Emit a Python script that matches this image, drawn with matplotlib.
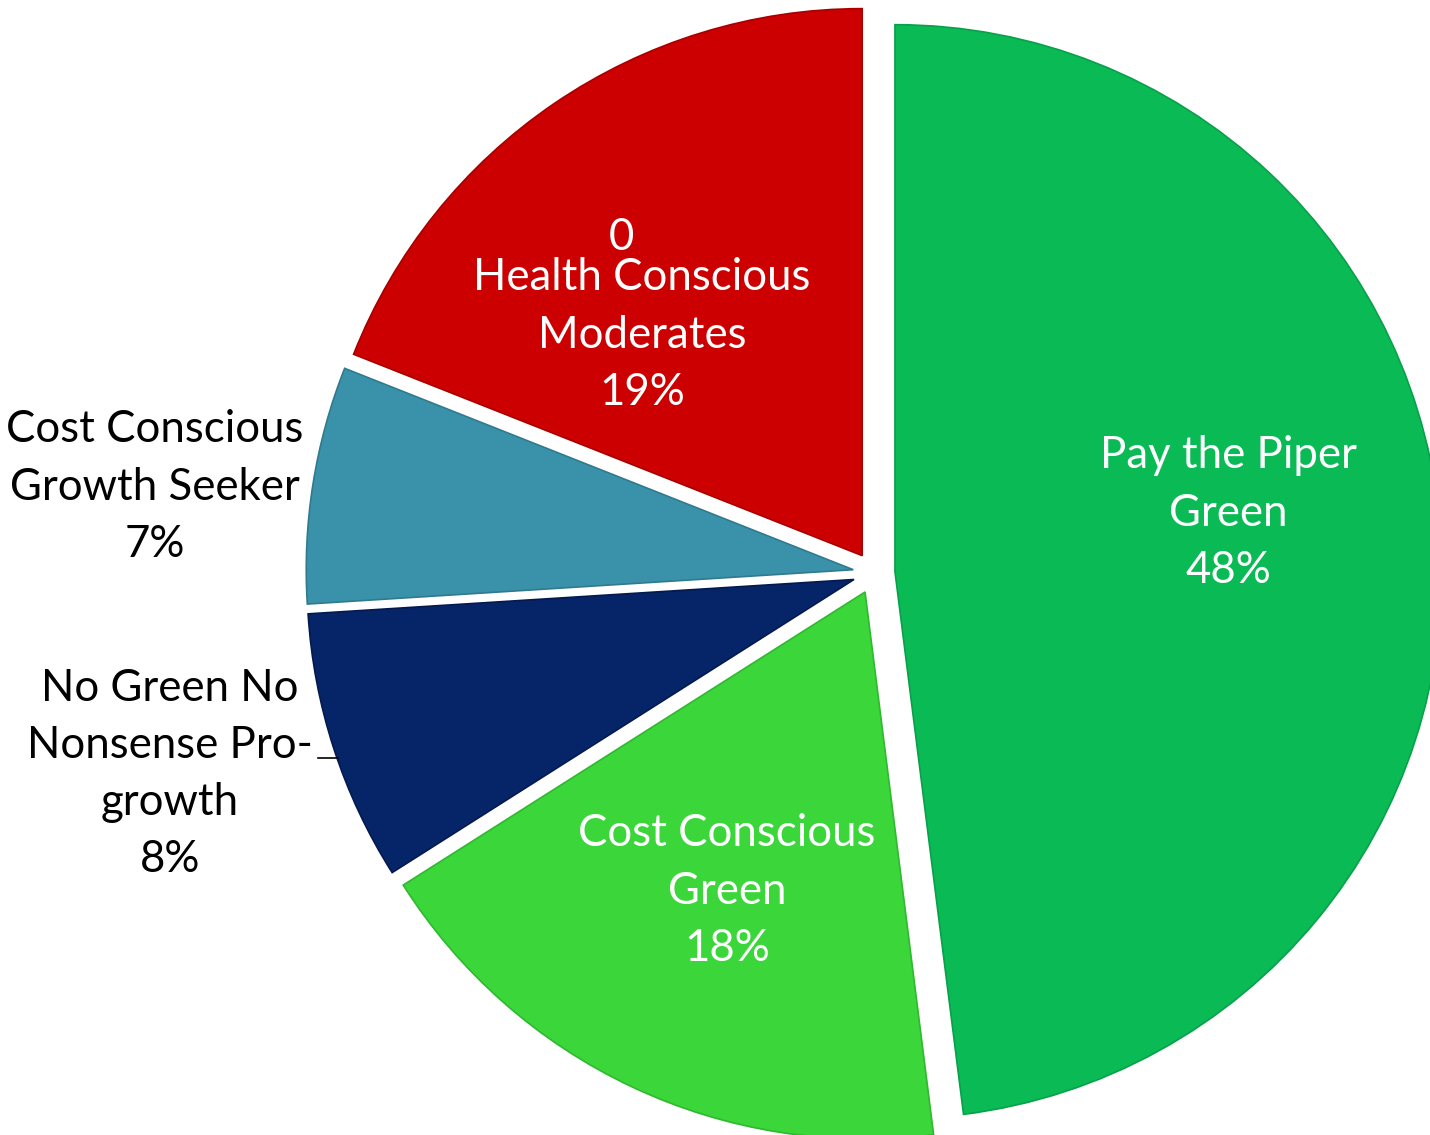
import matplotlib
matplotlib.use("Agg")
import matplotlib.pyplot as plt

# Data
segments = ["Pay the Piper Green", "Cost Conscious Green", "No Green No Nonsense Pro-growth",
            "Cost Conscious Growth Seeker", "Health Conscious Moderates"]
shares = [48, 18, 8, 7, 19]
pct_labels = ["48%", "18%", "8%", "7%", "19%"]
label_text = ["Pay the Piper\nGreen", "Cost Conscious\nGreen", "No Green No\nNonsense Pro-\ngrowth",
              "Cost Conscious\nGrowth Seeker", "Health Conscious\nModerates"]
colors = ["#0ABB55", "#3AD63A", "#062468", "#3A92AA", "#CC0000"]
edge_colors = ["#08A04A", "#30B830", "#041A4E", "#2F7A8E", "#A80000"]
text_colors = ["white", "white", "black", "black", "white"]

W, H = 1430, 1135
fig = plt.figure(figsize=(W / 100, H / 100), dpi=100)
ax = fig.add_axes([0, 0, 1, 1])

def Y(y):
    return H - y

cx, cy, R = 874, 573, 547
explode = [21] * len(shares)   # absolute offset in data units
wedges, _ = ax.pie(shares, colors=colors, startangle=90, counterclock=False, radius=R,
                   center=(cx, Y(cy)), explode=explode, frame=True,
                   wedgeprops=dict(linewidth=1.2))
for w, ec in zip(wedges, edge_colors):
    w.set_edgecolor(ec)
ax.set_xlim(0, W)
ax.set_ylim(0, H)
ax.set_aspect("equal")
ax.axis("off")

font = "Lato"
fs = 31.5
label_pos = [(1228, 513), (727, 891), (170, 774), (155, 487), (642, 335)]
for txt, pct, (x, y), c in zip(label_text, pct_labels, label_pos, text_colors):
    ax.text(x, Y(y), txt + "\n" + pct, ha="center", va="center", color=c,
            fontsize=fs, family=font, linespacing=1.49)

# stray "0" above the Health Conscious label
ax.text(621, Y(237), "0", ha="center", va="center", color="white", fontsize=fs, family=font)
# tiny leader line
ax.plot([318, 338], [Y(758), Y(758)], color="black", linewidth=1.2)

fig.savefig("out.png", dpi=100)
